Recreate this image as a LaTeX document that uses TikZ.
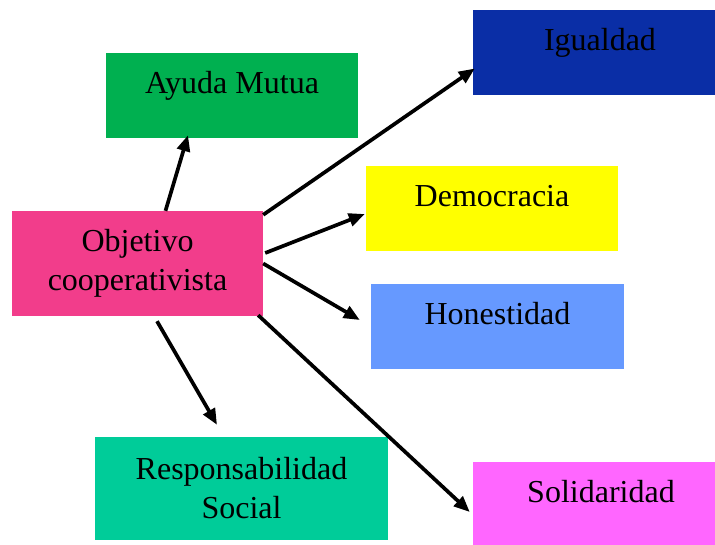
\documentclass[tikz,border=0pt]{standalone}
\usepackage{fontspec}
\setmainfont{Liberation Serif}
\usepackage{tikz}
\usetikzlibrary{arrows.meta, positioning}
\definecolor{verde}{RGB}{0,176,80}
\definecolor{azul}{RGB}{10,46,166}
\definecolor{amarillo}{RGB}{255,255,0}
\definecolor{celeste}{RGB}{102,153,255}
\definecolor{rosa}{RGB}{242,61,139}
\definecolor{turquesa}{RGB}{0,204,153}
\definecolor{magenta}{RGB}{255,102,255}
\tikzset{
  valor/.style={
    rectangle, inner sep=0pt,
    minimum width=252pt, minimum height=85pt,
    align=center, text height=21pt, text depth=25pt,
    font=\fontsize{32}{39}\selectfont,
  },
  doble/.style={
    rectangle, inner sep=0pt,
    align=center, font=\fontsize{32}{39}\selectfont,
  },
  flecha/.style={-{Triangle[length=16pt,width=13pt]}, line width=3.7pt},
}

\begin{document}
\begin{tikzpicture}[x=1pt, y=-1pt]
  \useasboundingbox (0,0) rectangle (715,544);
  \clip (0,0) rectangle (715,544);

  \node[doble, fill=rosa, minimum width=251pt, minimum height=105pt] (objetivo) at (137.5,263.5) {Objetivo\\cooperativista};
  \node[valor, fill=verde] (ayuda) at (232,95.5) {Ayuda Mutua};
  \node[valor, fill=azul, minimum width=254pt] (igualdad) at (600,52.5) {Igualdad};
  \node[valor, fill=amarillo] (democracia) at (492,208.5) {Democracia};
  \node[valor, fill=celeste, minimum width=253pt] (honestidad) at (497.5,326.5) {Honestidad};
  \node[doble, fill=turquesa, minimum width=293pt, minimum height=103pt] (responsabilidad) at (241.5,488.5) {Responsabilidad\\Social};
  \node[valor, fill=magenta, minimum width=256pt] (solidaridad) at (601,504.5) {Solidaridad};

  \draw[flecha] ([xshift=28pt]objetivo.north) -- ([xshift=-44pt,yshift=3pt]ayuda.south);
  \draw[flecha] ([yshift=-4pt]objetivo.north east) -- ([xshift=2pt,yshift=-16pt]igualdad.west);
  \draw[flecha] ([xshift=2pt,yshift=10.5pt]objetivo.east) -- ([xshift=-1pt,yshift=-5.5pt]democracia.west);
  \draw[flecha] (objetivo.east) -- ([xshift=-11pt,yshift=6.5pt]honestidad.west);
  \draw[flecha] ([xshift=19.5pt,yshift=-5pt]objetivo.south) -- ([xshift=-24.5pt,yshift=12pt]responsabilidad.north);
  \draw[flecha] ([xshift=-5pt,yshift=1pt]objetivo.south east) -- ([xshift=-3pt,yshift=-7.5pt]solidaridad.west);
\end{tikzpicture}
\end{document}
